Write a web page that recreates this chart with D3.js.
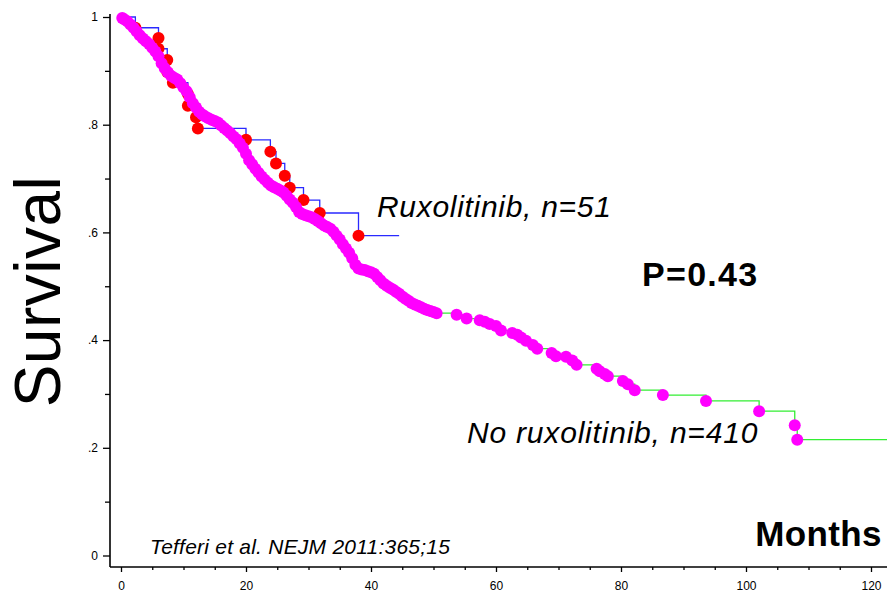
<!DOCTYPE html>
<html>
<head>
<meta charset="utf-8">
<script src="https://cdn.jsdelivr.net/npm/d3@7"></script>
<style>
  body { margin: 0; background: #fff; }
  svg { display: block; font-family: "Liberation Sans", Arial, sans-serif; }
</style>
</head>
<body>
<svg id="chart" width="887" height="594"></svg>
<script>
// Kaplan-Meier curves: event times (months) and survival after each event

// Ruxolitinib group
const ruxMonths = [2.3, 6.0, 6.0, 7.4, 7.4, 8.3, 10.7, 10.7, 12.0, 12.3,
  20.0, 23.9, 24.8, 26.2, 27.0, 29.2, 31.8, 38.0];
const ruxSurvival = [0.980, 0.961, 0.941, 0.920, 0.898, 0.878, 0.857, 0.835, 0.814, 0.793,
  0.772, 0.750, 0.728, 0.705, 0.683, 0.660, 0.636, 0.594];
const ruxLastFollowUp = 44.5;

// Group without ruxolitinib
const noRuxMonths = [0.2, 0.5, 1.0, 1.5, 2.0, 2.5, 3.0, 3.5, 4.0, 4.5,
  5.0, 5.5, 6.0, 6.5, 7.0, 7.5, 8.0, 8.5, 9.0, 9.5,
  10.0, 10.5, 11.0, 11.5, 12.0, 12.5, 13.0, 13.5, 14.0, 14.5,
  15.0, 15.5, 16.0, 16.5, 17.0, 17.5, 18.0, 18.5, 19.0, 19.5,
  20.0, 20.5, 21.0, 21.5, 22.0, 22.5, 23.0, 23.5, 24.0, 24.5,
  25.0, 25.5, 26.0, 26.5, 27.0, 27.5, 28.0, 28.5, 29.0, 29.5,
  30.0, 30.5, 31.0, 31.5, 32.0, 32.5, 33.0, 33.5, 34.0, 34.5,
  35.0, 35.5, 36.0, 36.5, 37.0, 37.5, 38.0, 38.5, 39.0, 39.5,
  40.0, 40.5, 41.0, 41.5, 42.0, 42.5, 43.0, 43.5, 44.0, 44.5,
  45.0, 45.5, 46.0, 46.5, 47.0, 47.5, 48.0, 48.5, 49.0, 49.5,
  50.0, 50.5, 53.7, 55.3, 57.4, 58.2, 59.0, 60.0, 60.8, 62.6,
  63.4, 64.0, 64.8, 65.9, 66.6, 68.9, 69.6, 71.2, 72.2, 72.9,
  76.1, 76.6, 77.4, 77.9, 80.3, 81.1, 82.2, 86.7, 93.6, 102.1,
  107.8, 108.2];
const noRuxSurvival = [0.998, 0.996, 0.992, 0.986, 0.980, 0.973, 0.966, 0.960, 0.955, 0.950,
  0.943, 0.936, 0.927, 0.914, 0.905, 0.897, 0.891, 0.887, 0.884, 0.877,
  0.869, 0.862, 0.851, 0.840, 0.832, 0.824, 0.819, 0.815, 0.812, 0.809,
  0.807, 0.804, 0.799, 0.794, 0.789, 0.784, 0.778, 0.773, 0.765, 0.757,
  0.746, 0.734, 0.726, 0.718, 0.711, 0.704, 0.698, 0.692, 0.687, 0.684,
  0.681, 0.678, 0.674, 0.668, 0.661, 0.655, 0.647, 0.638, 0.634, 0.632,
  0.630, 0.628, 0.625, 0.621, 0.617, 0.613, 0.610, 0.607, 0.601, 0.594,
  0.587, 0.578, 0.570, 0.562, 0.552, 0.540, 0.533, 0.531, 0.530, 0.528,
  0.526, 0.523, 0.517, 0.511, 0.505, 0.501, 0.497, 0.494, 0.490, 0.486,
  0.481, 0.477, 0.473, 0.469, 0.466, 0.464, 0.461, 0.458, 0.456, 0.454,
  0.452, 0.450, 0.447, 0.440, 0.437, 0.434, 0.430, 0.426, 0.418, 0.413,
  0.410, 0.405, 0.399, 0.391, 0.384, 0.376, 0.370, 0.369, 0.362, 0.354,
  0.347, 0.342, 0.337, 0.333, 0.324, 0.318, 0.307, 0.298, 0.287, 0.268,
  0.242, 0.215];
const noRuxLastFollowUp = 122.6;

// Axis ticks
const xMajorTicks = [0, 20, 40, 60, 80, 100, 120];
const xMinorTicks = [5, 10, 15, 25, 30, 35, 45, 50, 55, 65, 70, 75, 85, 90, 95, 105, 110, 115];
const yMajorTicks = [0, 0.2, 0.4, 0.6, 0.8, 1];
const yMinorTicks = [0.1, 0.3, 0.5, 0.7, 0.9];

const svg = d3.select("#chart");

const x = d3.scaleLinear().domain([0, 120]).range([121, 871]);
const y = d3.scaleLinear().domain([0, 1]).range([555.5, 17]);

const axisY0 = 567;   // x axis baseline
const axisX0 = 110;   // y axis position

// Axes
const xAxis = svg.append("g").attr("transform", `translate(0,${axisY0})`);
xAxis.call(d3.axisBottom(x).tickValues(xMajorTicks).tickSize(5).tickPadding(9).tickFormat(d3.format("d")));
xAxis.append("g").call(d3.axisBottom(x).tickValues(xMinorTicks).tickSize(3).tickFormat(""));

const yAxis = svg.append("g").attr("transform", `translate(${axisX0},0)`);
yAxis.call(d3.axisLeft(y).tickValues(yMajorTicks).tickSize(7).tickPadding(5)
  .tickFormat(d => d === 0 ? "0" : d === 1 ? "1" : d3.format(".1f")(d).replace(/^0/, "")));
yAxis.append("g").call(d3.axisLeft(y).tickValues(yMinorTicks).tickSize(5).tickFormat(""));

svg.selectAll(".domain").remove();
svg.selectAll(".tick line").attr("stroke", "#000").attr("stroke-width", 1.3);
svg.selectAll(".tick text").attr("font-size", 12).attr("font-family", "Liberation Sans, Arial, sans-serif").attr("fill", "#000");

svg.append("line").attr("x1", axisX0).attr("x2", 887).attr("y1", axisY0).attr("y2", axisY0)
  .attr("stroke", "#000").attr("stroke-width", 1.6);
svg.append("line").attr("x1", axisX0).attr("x2", axisX0).attr("y1", 14).attr("y2", axisY0)
  .attr("stroke", "#000").attr("stroke-width", 1.6);

// Step curves
const step = d3.line().x(d => x(d[0])).y(d => y(d[1])).curve(d3.curveStepAfter);

function kmPoints(months, surv, last) {
  const pts = [[0, 1]];
  months.forEach((m, i) => pts.push([m, surv[i]]));
  pts.push([last, surv[surv.length - 1]]);
  return pts;
}

const ruxPts = ruxMonths.map((m, i) => [m, ruxSurvival[i]]);
const noRuxPts = noRuxMonths.map((m, i) => [m, noRuxSurvival[i]]);

svg.append("path")
  .attr("d", step(kmPoints(ruxMonths, ruxSurvival, ruxLastFollowUp)))
  .attr("fill", "none").attr("stroke", "#2a2aff").attr("stroke-width", 1.3);

svg.selectAll(".rux-dot").data(ruxPts).enter().append("circle")
  .attr("class", "rux-dot")
  .attr("cx", d => x(d[0])).attr("cy", d => y(d[1])).attr("r", 6)
  .attr("fill", "#ff0000");

svg.append("path")
  .attr("d", step(kmPoints(noRuxMonths, noRuxSurvival, noRuxLastFollowUp)))
  .attr("fill", "none").attr("stroke", "#33ee33").attr("stroke-width", 1.3);

svg.selectAll(".norux-dot").data(noRuxPts).enter().append("circle")
  .attr("class", "norux-dot")
  .attr("cx", d => x(d[0])).attr("cy", d => y(d[1])).attr("r", 6)
  .attr("fill", "#ff00ff");

// Labels
svg.append("text")
  .attr("transform", "translate(60,291.5) rotate(-90)")
  .attr("text-anchor", "middle")
  .attr("font-size", 64)
  .attr("letter-spacing", 0.5)
  .text("Survival");

svg.append("text").attr("x", 882).attr("y", 546).attr("text-anchor", "end")
  .attr("font-size", 35).attr("font-weight", "bold").attr("letter-spacing", 0.4).text("Months");

svg.append("text").attr("x", 642).attr("y", 286)
  .attr("font-size", 34).attr("font-weight", "bold").attr("letter-spacing", 1.3).text("P=0.43");

svg.append("text").attr("x", 377).attr("y", 217)
  .attr("font-size", 30).attr("font-style", "italic").attr("letter-spacing", 0.7).text("Ruxolitinib, n=51");

svg.append("text").attr("x", 467).attr("y", 443)
  .attr("font-size", 30).attr("font-style", "italic").attr("letter-spacing", 0.8).text("No ruxolitinib, n=410");

svg.append("text").attr("x", 150).attr("y", 554)
  .attr("font-size", 21).attr("font-style", "italic").attr("letter-spacing", 0.23).text("Tefferi et al. NEJM 2011:365;15");
</script>
</body>
</html>
